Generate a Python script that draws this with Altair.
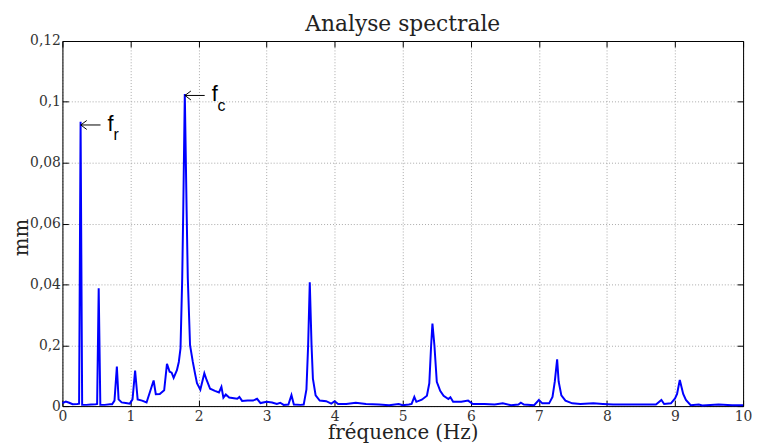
import altair as alt
import pandas as pd

# ---- data ----
freq = [0.00, 0.05, 0.10, 0.15, 0.22, 0.245, 0.267, 0.29, 0.35, 0.42, 0.49, 0.51, 0.533, 0.557,
        0.62, 0.70, 0.73, 0.765, 0.80, 0.825, 0.87, 0.93, 0.99, 1.03, 1.068, 1.105, 1.17, 1.236,
        1.34, 1.372, 1.43, 1.495, 1.536, 1.575, 1.605, 1.634, 1.682, 1.71, 1.735, 1.76, 1.775,
        1.798, 1.825, 1.842, 1.875, 1.915, 1.95, 1.977, 2.026, 2.085, 2.12, 2.17, 2.24, 2.30,
        2.336, 2.365, 2.40, 2.45, 2.52, 2.57, 2.60, 2.64, 2.72, 2.80, 2.86, 2.91, 3.00, 3.08,
        3.15, 3.20, 3.25, 3.32, 3.365, 3.40, 3.50, 3.545, 3.585, 3.61, 3.634, 3.66, 3.68, 3.72,
        3.78, 3.875, 3.95, 4.00, 4.05, 4.17, 4.31, 4.46, 4.65, 4.80, 4.94, 5.00, 5.09, 5.13,
        5.17, 5.20, 5.28, 5.355, 5.39, 5.417, 5.436, 5.465, 5.50, 5.55, 5.60, 5.67, 5.70, 5.74,
        5.86, 5.96, 6.03, 6.20, 6.35, 6.47, 6.59, 6.70, 6.735, 6.78, 6.93, 7.00, 7.05, 7.15,
        7.20, 7.234, 7.268, 7.29, 7.33, 7.39, 7.49, 7.61, 7.80, 7.94, 8.09, 8.285, 8.53, 8.72,
        8.80, 8.84, 8.94, 9.00, 9.03, 9.07, 9.12, 9.16, 9.23, 9.35, 9.40, 9.64, 9.84, 10.0]
amp = [0.0010, 0.0015, 0.0011, 0.0006, 0.0007, 0.0008, 0.0935, 0.0004, 0.0004, 0.0005, 0.0006,
       0.0007, 0.0387, 0.0004, 0.0004, 0.0006, 0.0006, 0.0018, 0.0130, 0.0022, 0.0012, 0.0010,
       0.0008, 0.0022, 0.0117, 0.0022, 0.0018, 0.0012, 0.0084, 0.0039, 0.0040, 0.0052, 0.0139,
       0.0113, 0.0110, 0.0093, 0.0118, 0.0145, 0.0190, 0.0420, 0.0640, 0.1026, 0.0640, 0.0420,
       0.0200, 0.0146, 0.0105, 0.0075, 0.0054, 0.0108, 0.0085, 0.0057, 0.0050, 0.0045, 0.0063,
       0.0028, 0.0038, 0.0028, 0.0026, 0.0024, 0.0030, 0.0017, 0.0018, 0.0018, 0.0024, 0.0010,
       0.0014, 0.0012, 0.0007, 0.0011, 0.0004, 0.0005, 0.0036, 0.0005, 0.0004, 0.0005, 0.0055,
       0.0200, 0.0407, 0.0200, 0.0090, 0.0035, 0.0018, 0.0016, 0.0008, 0.0016, 0.0007, 0.0007,
       0.0011, 0.0007, 0.0005, 0.0003, 0.0007, 0.0003, 0.0005, 0.0007, 0.0030, 0.0014, 0.0021,
       0.0034, 0.0075, 0.0200, 0.0271, 0.0200, 0.0080, 0.0050, 0.0034, 0.0023, 0.0029, 0.0014,
       0.0014, 0.0018, 0.0007, 0.0007, 0.0005, 0.0009, 0.0003, 0.0005, 0.0011, 0.0005, 0.0003,
       0.0020, 0.0009, 0.0009, 0.0030, 0.0081, 0.0154, 0.0081, 0.0035, 0.0018, 0.0009, 0.0007,
       0.0009, 0.0007, 0.0005, 0.0005, 0.0005, 0.0005, 0.0020, 0.0007, 0.0009, 0.0025, 0.0040,
       0.0086, 0.0040, 0.0020, 0.0003, 0.0005, 0.0002, 0.0005, 0.0003, 0.0003]

x_ticks = [0, 1, 2, 3, 4, 5, 6, 7, 8, 9, 10]
y_ticks = [0, 0.02, 0.04, 0.06, 0.08, 0.10, 0.12]
y_tick_labels = ["0", "0,2", "0,04", "0,06", "0,08", "0,1", "0,12"]

ann_freq = [0.27, 1.80]
ann_amp = [0.0924, 0.1021]
ann_main = ["f", "f"]
ann_sub = ["r", "c"]
arrow_len = 0.29  # Hz

W, H = 688, 369

df = pd.DataFrame({"f": freq, "a": amp})
ann = pd.DataFrame({"f": ann_freq, "a": ann_amp, "main": ann_main, "sub": ann_sub})

xs = alt.Scale(domain=[0, 10], nice=False, zero=False)
ys = alt.Scale(domain=[0, 0.12], nice=False)

label_expr = "[" + ",".join("'%s'" % s for s in y_tick_labels) + "][round(datum.value / 0.02)]"
SERIF = "DejaVu Serif"
GRID = dict(grid=True, gridDash=[1, 2], gridColor="#a8a8a8", gridWidth=1)

X1 = alt.Axis(orient="bottom", values=x_ticks, format="d", ticks=False, tickSize=0,
              labelPadding=4, labelFont=SERIF, labelFontSize=14, labelColor="#333",
              labelFlush=False, labelOverlap=False, domain=True, domainColor="black",
              domainWidth=1, title="fréquence (Hz)", titleFont=SERIF, titleFontSize=20,
              titleFontWeight="normal", titleColor="#222", titleBaseline="alphabetic",
              titleY=33, **GRID)
Y1 = alt.Axis(orient="left", values=y_ticks, labelExpr=label_expr, ticks=False, tickSize=0,
              labelPadding=2, labelFont=SERIF, labelFontSize=14, labelColor="#333",
              labelFlush=False, labelOverlap=False, domain=True, domainColor="black",
              domainWidth=1, title="mm", titleFont=SERIF, titleFontSize=20,
              titleFontWeight="normal", titleColor="#222", titleBaseline="alphabetic",
              titleX=-35, titleY=198, titleAlign="center", **GRID)
TICKS = dict(ticks=True, tickSize=6, tickColor="black", tickWidth=1, labels=False, grid=False, title=None)
X2 = alt.Axis(orient="top", offset=-H, values=x_ticks, domain=False, **TICKS)
Y2 = alt.Axis(orient="right", offset=-W, values=y_ticks, domain=False, **TICKS)
X3 = alt.Axis(orient="bottom", offset=-H, values=x_ticks, domain=True, domainColor="black", **TICKS)
Y3 = alt.Axis(orient="left", offset=-W, values=y_ticks, domain=True, domainColor="black", **TICKS)

line = alt.Chart(df).mark_line(color="#0000ff", strokeWidth=2).encode(
    x=alt.X("f:Q", scale=xs, axis=X1),
    y=alt.Y("a:Q", scale=ys, axis=Y1),
)

rule = alt.Chart(ann).transform_calculate(f_end="datum.f + %s" % arrow_len).mark_rule(
    color="black", strokeWidth=1
).encode(
    x=alt.X("f:Q", scale=xs, axis=X2),
    x2="f_end:Q",
    y=alt.Y("a:Q", scale=ys, axis=Y2),
)

head = alt.Chart(ann).mark_point(
    shape="M 1 -0.75 L 0 0 L 1 0.75", filled=False, size=144, color="black",
    strokeWidth=1, opacity=1
).encode(
    x=alt.X("f:Q", scale=xs, axis=None),
    y=alt.Y("a:Q", scale=ys, axis=None),
)

main = alt.Chart(ann).mark_text(
    align="left", baseline="alphabetic", dx=27, dy=6, font="Liberation Sans",
    fontSize=22, color="black"
).encode(
    x=alt.X("f:Q", scale=xs, axis=X3),
    y=alt.Y("a:Q", scale=ys, axis=Y3),
    text="main:N",
)

sub = alt.Chart(ann).mark_text(
    align="left", baseline="alphabetic", dx=33, dy=15.5, font="Liberation Sans",
    fontSize=16, color="black"
).encode(
    x=alt.X("f:Q", scale=xs, axis=None),
    y=alt.Y("a:Q", scale=ys, axis=None),
    text="sub:N",
)

chart = alt.layer(line, rule, head, main, sub).resolve_axis(
    x="independent", y="independent"
).properties(
    width=W,
    height=H,
    padding={"left": 55, "top": 31, "right": 9, "bottom": 40},
    autosize=alt.AutoSizeParams(type="none"),
    title=alt.TitleParams("Analyse spectrale", font=SERIF, fontSize=22, fontWeight="normal",
                          color="#222", anchor="middle", frame="group", offset=-2),
).configure_view(stroke=None).configure(background="white")

chart.save("out.html", embed_options={"renderer": "svg", "actions": False})
